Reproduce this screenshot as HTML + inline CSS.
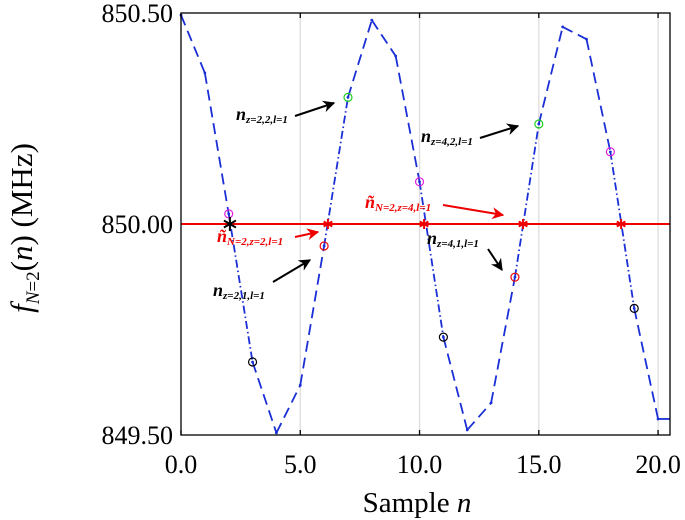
<!DOCTYPE html>
<html><head><meta charset="utf-8"><style>
html,body{margin:0;padding:0;background:#fff;}
svg{display:block;font-family:"Liberation Serif",serif;}
</style></head><body>
<svg id="chart" width="685" height="520" viewBox="0 0 685 520" xmlns="http://www.w3.org/2000/svg">
<defs>
<marker id="ahk" viewBox="0 0 10 10" refX="9" refY="5" markerWidth="7" markerHeight="6" orient="auto"><path d="M0,0 L10,5 L0,10 L3,5 z" fill="#000"/></marker>
<marker id="ahr" viewBox="0 0 10 10" refX="9" refY="5" markerWidth="7" markerHeight="6" orient="auto"><path d="M0,0 L10,5 L0,10 L3,5 z" fill="#e00"/></marker>
</defs>
<g id="grid"></g>
<g id="series"></g>
<g id="marks"></g>
<rect x="181" y="13" width="489" height="422" fill="none" stroke="#000" stroke-width="1.3"/>
<g id="ticks" font-size="26" fill="#000"></g>
<text x="417" y="512" font-size="29" text-anchor="middle">Sample <tspan font-style="italic">n</tspan></text>
<text transform="translate(32,228) rotate(-90)" font-size="31" text-anchor="middle"><tspan font-style="italic">f</tspan><tspan font-size="19" dy="7" font-style="italic">N</tspan><tspan font-size="19">=2</tspan><tspan dy="-7">(</tspan><tspan font-style="italic">n</tspan>)  (MHz)</text>
<g font-style="italic" font-weight="bold">
<text x="236" y="120" font-size="18">n<tspan font-size="11" dy="3">z=2,2,l=1</tspan></text>
<line x1="295" y1="116" x2="334" y2="103" stroke="#000" stroke-width="2" marker-end="url(#ahk)"/>
<text x="421" y="142" font-size="18">n<tspan font-size="11" dy="3">z=4,2,l=1</tspan></text>
<line x1="480" y1="138" x2="518" y2="126" stroke="#000" stroke-width="2" marker-end="url(#ahk)"/>
<text x="365" y="208" font-size="18" fill="#e00">ñ<tspan font-size="11" dy="3">N=2,z=4,l=1</tspan></text>
<line x1="443" y1="205" x2="503" y2="215" stroke="#e00" stroke-width="2" marker-end="url(#ahr)"/>
<text x="217" y="242" font-size="18" fill="#e00">ñ<tspan font-size="11" dy="3">N=2,z=2,l=1</tspan></text>
<line x1="295" y1="237" x2="318" y2="232" stroke="#e00" stroke-width="2" marker-end="url(#ahr)"/>
<text x="213" y="296" font-size="18">n<tspan font-size="11" dy="3">z=2,1,l=1</tspan></text>
<line x1="273" y1="282" x2="310" y2="260" stroke="#000" stroke-width="2" marker-end="url(#ahk)"/>
<text x="427" y="244" font-size="18">n<tspan font-size="11" dy="3">z=4,1,l=1</tspan></text>
<line x1="488" y1="249" x2="502" y2="270" stroke="#000" stroke-width="2" marker-end="url(#ahk)"/>
</g>
</svg>
<script>
const samples = [0,1,2,3,4,5,6,7,8,9,10,11,12,13,14,15,16,17,18,19,20];
const freq = [850.495,850.358,850.024,849.673,849.505,849.618,849.948,850.30,850.483,850.398,850.10,849.732,849.512,849.576,849.874,850.237,850.467,850.438,850.171,849.80,849.538];
const dashDotStarts = [2,6,10,14,18];
const magentaIdx = [2,10,18];
const blackIdx = [3,11,19];
const redIdx = [6,14];
const greenIdx = [7,15];
const crossings = [6.16,10.19,14.34,18.45];
const refLevel = 850.0;
const startMarker = [2.05, 850.0];
const xTicks = [0,5,10,15,20];
const xTickLabels = ["0.0","5.0","10.0","15.0","20.0"];
const yTicks = [849.5,850.0,850.5];
const yTickLabels = ["849.50","850.00","850.50"];
const xMax = 20.5;

const L=181,R=670,T=13,B=435;
const X=v=>L+(v-0)/(xMax-0)*(R-L);
const Y=v=>B-(v-849.5)/(850.5-849.5)*(B-T);
const NS="http://www.w3.org/2000/svg";
function mk(tag,parent,attrs){const e=document.createElementNS(NS,tag);for(const k in attrs)e.setAttribute(k,attrs[k]);parent.appendChild(e);return e;}
const grid=document.getElementById('grid'),series=document.getElementById('series'),marks=document.getElementById('marks'),ticks=document.getElementById('ticks');

xTicks.forEach((t,i)=>{
  if(t>0){const g=mk('line',grid,{x1:X(t),x2:X(t),y1:T,y2:B,stroke:'#ddd','stroke-width':1.3});
  
  }
  const a=mk('line',ticks,{x1:X(t),x2:X(t),y1:T,y2:T+5,stroke:'#000','stroke-width':1.3});
  
  
  const b=mk('line',ticks,{x1:X(t),x2:X(t),y1:B,y2:B-5,stroke:'#000','stroke-width':1.3});
  
  
  const tx=mk('text',ticks,{x:X(t),y:473,'text-anchor':'middle'});tx.textContent=xTickLabels[i];
  
  
});
yTicks.forEach((t,i)=>{
  const tx=mk('text',ticks,{x:173,y:Y(t)+9,'text-anchor':'end'});tx.textContent=yTickLabels[i];
  
  
});

const rl=mk('line',series,{x1:L,x2:R,y1:Y(refLevel),y2:Y(refLevel),stroke:'#e00','stroke-width':2});



for(let i=0;i<samples.length-1;i++){
  const dd=dashDotStarts.includes(i);
  const s=mk('line',series,{x1:X(samples[i]),y1:Y(freq[i]),x2:X(samples[i+1]),y2:Y(freq[i+1]),stroke:'#1a2fd6','stroke-width':1.8,'stroke-dasharray':dd?'8,3,1.5,3':'11,6'});
  
  
}
const tail=mk('line',series,{x1:X(samples[samples.length-1]),y1:Y(freq[freq.length-1]),x2:R,y2:Y(freq[freq.length-1]),stroke:'#1a2fd6','stroke-width':1.8});


samples.forEach((s,i)=>{
  const d=mk('circle',series,{cx:X(s),cy:Y(freq[i]),r:1.4,fill:'#1a2fd6'});
  
  
});
function rings(idx,color,name){idx.forEach(i=>{
  const c=mk('circle',marks,{cx:X(samples[i]),cy:Y(freq[i]),r:4,fill:'none',stroke:color,'stroke-width':1.2});
  
  
});}
rings(magentaIdx,'#e020e0','magenta-marker');
rings(blackIdx,'#000','black-marker');
rings(redIdx,'#e00','red-marker');
rings(greenIdx,'#20d020','green-marker');
crossings.forEach(c=>{
  const x=X(c),y=Y(refLevel);
  const g=mk('g',marks,{});
  
  
  [[0,5],[4.3,2.5],[4.3,-2.5]].forEach(([dx,dy])=>mk('line',g,{x1:x-dx,y1:y-dy,x2:x+dx,y2:y+dy,stroke:'#e00','stroke-width':2}));
});
(function(){const x=X(startMarker[0]),y=Y(startMarker[1]);
  const g=mk('g',marks,{});
  
  
  [[0,7],[6,3.5],[6,-3.5]].forEach(([dx,dy])=>mk('line',g,{x1:x-dx,y1:y-dy,x2:x+dx,y2:y+dy,stroke:'#000','stroke-width':2}));
})();
</script>
</body></html>
